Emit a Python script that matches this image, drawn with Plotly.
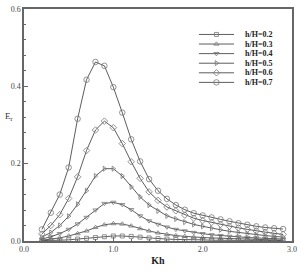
import plotly.graph_objects as go

kh = [0.2, 0.3, 0.4, 0.5, 0.6, 0.7, 0.8, 0.9, 1.0, 1.1, 1.2, 1.3, 1.4, 1.5,
      1.6, 1.7, 1.8, 1.9, 2.0, 2.1, 2.2, 2.3, 2.4, 2.5, 2.6, 2.7, 2.8, 2.9]

er_02 = [0.001, 0.001, 0.002, 0.003, 0.005, 0.007, 0.009, 0.011, 0.013, 0.013, 0.012, 0.010, 0.008, 0.006,
         0.005, 0.004, 0.004, 0.003, 0.003, 0.002, 0.002, 0.002, 0.002, 0.001, 0.001, 0.001, 0.001, 0.001]
er_03 = [0.002, 0.005, 0.008, 0.013, 0.019, 0.026, 0.035, 0.042, 0.045, 0.044, 0.039, 0.032, 0.026, 0.021,
         0.017, 0.014, 0.012, 0.010, 0.009, 0.008, 0.007, 0.006, 0.005, 0.004, 0.004, 0.003, 0.003, 0.002]
er_04 = [0.005, 0.011, 0.019, 0.030, 0.044, 0.061, 0.080, 0.097, 0.100, 0.094, 0.081, 0.065, 0.052, 0.043,
         0.036, 0.030, 0.026, 0.022, 0.019, 0.016, 0.014, 0.012, 0.011, 0.009, 0.008, 0.007, 0.006, 0.005]
er_05 = [0.010, 0.022, 0.040, 0.064, 0.095, 0.130, 0.168, 0.187, 0.187, 0.168, 0.140, 0.114, 0.093, 0.078,
         0.065, 0.057, 0.049, 0.043, 0.038, 0.033, 0.029, 0.025, 0.022, 0.019, 0.016, 0.014, 0.012, 0.010]
er_06 = [0.018, 0.040, 0.068, 0.110, 0.166, 0.234, 0.287, 0.310, 0.293, 0.252, 0.205, 0.162, 0.127, 0.105,
         0.088, 0.078, 0.067, 0.059, 0.053, 0.048, 0.043, 0.038, 0.034, 0.030, 0.026, 0.023, 0.020, 0.017]
er_07 = [0.030, 0.073, 0.120, 0.190, 0.316, 0.417, 0.463, 0.453, 0.398, 0.332, 0.263, 0.206, 0.160, 0.130,
         0.109, 0.093, 0.081, 0.072, 0.066, 0.061, 0.056, 0.051, 0.046, 0.042, 0.038, 0.035, 0.033, 0.031]

series_names = ["h/H=0.2", "h/H=0.3", "h/H=0.4", "h/H=0.5", "h/H=0.6", "h/H=0.7"]
series_values = [er_02, er_03, er_04, er_05, er_06, er_07]
symbols = ["square-open", "triangle-up-open", "triangle-down-open",
           "triangle-right-open", "diamond-open", "circle-open"]
sizes = [4, 4.5, 4.5, 4.5, 5, 5.5]

x_ticks = [0.0, 1.0, 2.0, 3.0]
y_ticks = [0.0, 0.2, 0.4, 0.6]

FONT = "Liberation Serif"
LINE_C = "#333333"
MARK_C = "#777777"

fig = go.Figure()
for name, vals, sym, sz in zip(series_names, series_values, symbols, sizes):
    fig.add_trace(go.Scatter(
        x=kh, y=vals, mode="lines+markers", name=name, showlegend=False,
        line=dict(color=LINE_C, width=0.8),
        marker=dict(symbol=sym, size=sz, color=MARK_C, line=dict(color=MARK_C, width=0.8)),
    ))

# compact legend drawn on an auxiliary axis pair
LEG_DOM = [0.663, 0.911]
n = len(series_names)
for i, (name, sym, sz) in enumerate(zip(series_names, symbols, sizes)):
    fig.add_trace(go.Scatter(
        x=[0, 0.5, 1], y=[i, i, i], mode="lines", showlegend=False, hoverinfo="skip",
        line=dict(color=LINE_C, width=0.8), xaxis="x2", yaxis="y2"))
    fig.add_trace(go.Scatter(
        x=[0.5], y=[i], mode="markers", showlegend=False, hoverinfo="skip",
        marker=dict(symbol=sym, size=sz, color=MARK_C, line=dict(color=MARK_C, width=0.8)),
        xaxis="x2", yaxis="y2"))
    ypap = LEG_DOM[1] - (i + 0.5) / n * (LEG_DOM[1] - LEG_DOM[0])
    fig.add_annotation(x=0.818, y=ypap, xref="paper", yref="paper", text="<b>" + name + "</b>",
                       showarrow=False, xanchor="left", yanchor="middle",
                       font=dict(family=FONT, size=8, color="#222"))

axis_common = dict(
    showgrid=False, zeroline=False, showline=True, mirror=True,
    linecolor="#666", linewidth=1.5, ticks="inside", ticklen=4, tickcolor="#666",
    tickfont=dict(family=FONT, size=8, color="#444"),
)

fig.update_layout(
    width=302, height=270,
    margin=dict(l=24, r=5, t=7, b=26),
    paper_bgcolor="white", plot_bgcolor="white",
    xaxis=dict(range=[0, 3], tickvals=x_ticks, ticktext=[f"{v:.1f}" for v in x_ticks],
               minor=dict(dtick=0.2, ticks="inside", ticklen=2, tickcolor="#666"),
               title=dict(text="<b>Kh</b>", font=dict(family=FONT, size=10, color="#222"), standoff=4),
               **axis_common),
    yaxis=dict(range=[0, 0.6], tickvals=y_ticks, ticktext=[f"{v:.1f}" for v in y_ticks],
               minor=dict(dtick=0.04, ticks="inside", ticklen=2, tickcolor="#666"),
               **axis_common),
    xaxis2=dict(domain=[0.652, 0.784], range=[0, 1], visible=False, anchor="y2"),
    yaxis2=dict(domain=LEG_DOM, range=[n - 0.5, -0.5], visible=False, anchor="x2"),
    showlegend=False,
)

fig.add_annotation(x=-0.08, y=0.535, xref="paper", yref="paper", text="E<sub>r</sub>",
                   showarrow=False, xanchor="left", yanchor="middle",
                   font=dict(family=FONT, size=9, color="#333"))

fig.write_html("out.html")
